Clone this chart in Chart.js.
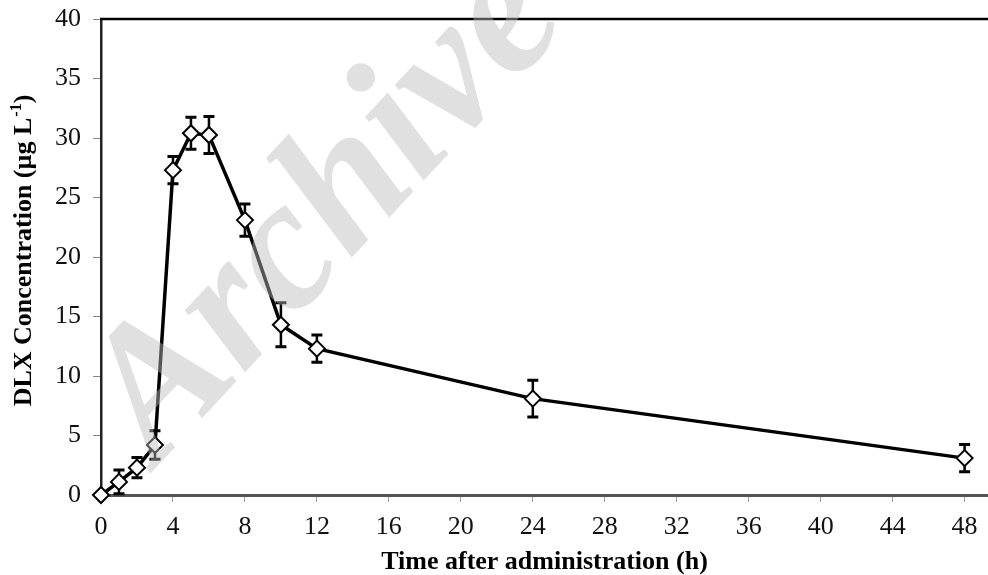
<!DOCTYPE html>
<html>
<head>
<meta charset="utf-8">
<script src="https://cdn.jsdelivr.net/npm/chart.js@4.4.1/dist/chart.umd.min.js"></script>
<style>
html,body{margin:0;padding:0;background:#fff;}
#wrap{width:988px;height:575px;position:relative;}
</style>
</head>
<body>
<div id="wrap"><canvas id="c" width="988" height="575"></canvas></div>
<script>
// Data
const times = [0, 1, 2, 3, 4, 5, 6, 8, 10, 12, 24, 48];
const concentration = [0, 1.1, 2.3, 4.2, 27.3, 30.4, 30.25, 23.1, 14.3, 12.3, 8.1, 3.1];
const errorSD = [0, 1.0, 0.85, 1.2, 1.15, 1.35, 1.55, 1.35, 1.85, 1.15, 1.55, 1.15];
const xTicks = [0, 4, 8, 12, 16, 20, 24, 28, 32, 36, 40, 44, 48];
const yTicks = [0, 5, 10, 15, 20, 25, 30, 35, 40];
const xTitle = 'Time after administration (h)';
const yTitleMain = 'DLX Concentration (µg L';
const yTitleSup = '-1';
const yTitleEnd = ')';
const watermark = 'Archive';

const points = times.map((t, i) => ({x: t, y: concentration[i]}));

const errorBars = {
  id: 'errorBars',
  beforeDatasetsDraw(chart) {
    const ctx = chart.ctx;
    const xs = chart.scales.x, ys = chart.scales.y;
    ctx.save();
    ctx.strokeStyle = '#000';
    ctx.lineCap = 'butt';
    times.forEach((t, i) => {
      const e = errorSD[i];
      if (!e) return;
      const px = xs.getPixelForValue(t);
      const pTop = ys.getPixelForValue(concentration[i] + e);
      const pBot = ys.getPixelForValue(concentration[i] - e);
      ctx.lineWidth = 2.5;
      ctx.beginPath();
      ctx.moveTo(px, pTop); ctx.lineTo(px, pBot);
      ctx.stroke();
      ctx.lineWidth = 3;
      ctx.beginPath();
      ctx.moveTo(px - 5.5, pTop); ctx.lineTo(px + 5.5, pTop);
      ctx.moveTo(px - 5.5, pBot); ctx.lineTo(px + 5.5, pBot);
      ctx.stroke();
    });
    ctx.restore();
  }
};

const frameAndText = {
  id: 'frameAndText',
  beforeDraw(chart) {
    const ctx = chart.ctx;
    ctx.save();
    ctx.fillStyle = '#fff';
    ctx.fillRect(0, 0, chart.width, chart.height);
    ctx.restore();
  },
  afterDraw(chart) {
    const ctx = chart.ctx;
    const a = chart.chartArea;
    ctx.save();
    // top frame line
    ctx.strokeStyle = '#000';
    ctx.lineWidth = 2.5;
    ctx.beginPath();
    ctx.moveTo(a.left - 1, a.top);
    ctx.lineTo(chart.width, a.top);
    ctx.stroke();
    // y title with superscript
    ctx.translate(31, 251);
    ctx.rotate(-Math.PI / 2);
    ctx.fillStyle = '#000';
    ctx.textBaseline = 'alphabetic';
    const f1 = 'bold 26px "Liberation Serif"';
    const f2 = 'bold 16px "Liberation Serif"';
    ctx.font = f1;
    const w1 = ctx.measureText(yTitleMain).width;
    const w3 = ctx.measureText(yTitleEnd).width;
    ctx.font = f2;
    const w2 = ctx.measureText(yTitleSup).width;
    let x0 = -(w1 + w2 + w3) / 2;
    ctx.font = f1;
    ctx.textAlign = 'left';
    ctx.fillText(yTitleMain, x0, 0);
    ctx.font = f2;
    ctx.fillText(yTitleSup, x0 + w1 + 1, -10);
    ctx.font = f1;
    ctx.fillText(yTitleEnd, x0 + w1 + w2 + 1, 0);
    ctx.restore();

    // watermark drawn over the data
    ctx.save();
    ctx.translate(328, 212);
    ctx.rotate(-47 * Math.PI / 180);
    ctx.font = 'bold italic 188px "Liberation Serif"';
    ctx.fillStyle = 'rgba(187,187,187,0.45)';
    ctx.textAlign = 'center';
    ctx.textBaseline = 'middle';
    ctx.fillText(watermark, 0, 0);
    ctx.restore();
  }
};

new Chart(document.getElementById('c'), {
  type: 'scatter',
  data: {
    datasets: [{
      data: points,
      showLine: true,
      borderColor: '#000',
      borderWidth: 3.5,
      pointStyle: 'rectRot',
      pointRadius: 8,
      pointHoverRadius: 8,
      pointBackgroundColor: '#fff',
      pointBorderColor: '#000',
      pointBorderWidth: 2,
      tension: 0,
      clip: false
    }]
  },
  options: {
    responsive: false,
    animation: false,
    devicePixelRatio: 1,
    layout: {autoPadding: false, padding: {top: 19, right: 0, left: 0, bottom: 0}},
    plugins: {legend: {display: false}, tooltip: {enabled: false}},
    scales: {
      x: {
        type: 'linear',
        min: 0,
        max: 49.3,
        afterBuildTicks(scale) { scale.ticks = xTicks.map(v => ({value: v})); },
        afterFit(scale) { scale.height = 80; scale.paddingLeft = 0; scale.paddingRight = 0; },
        ticks: {
          font: {family: 'Liberation Serif', size: 26},
          color: '#111',
          padding: 10,
          maxRotation: 0,
          autoSkip: false
        },
        grid: {drawOnChartArea: false, drawTicks: true, tickLength: 7, color: '#999', lineWidth: 1},
        border: {display: true, color: '#555', width: 3},
        title: {
          display: true,
          text: xTitle,
          font: {family: 'Liberation Serif', size: 26, weight: 'bold'},
          color: '#000',
          padding: {top: 0, bottom: -3}
        }
      },
      y: {
        min: 0,
        max: 40,
        afterBuildTicks(scale) { scale.ticks = yTicks.map(v => ({value: v})); },
        afterFit(scale) { scale.width = 101; scale.paddingTop = 0; scale.paddingBottom = 0; },
        ticks: {
          font: {family: 'Liberation Serif', size: 26},
          color: '#111',
          padding: 12
        },
        grid: {drawOnChartArea: false, drawTicks: true, tickLength: 8, color: '#888', lineWidth: 1},
        border: {display: true, color: '#222', width: 2.5}
      }
    }
  },
  plugins: [frameAndText, errorBars]
});
</script>
</body>
</html>
